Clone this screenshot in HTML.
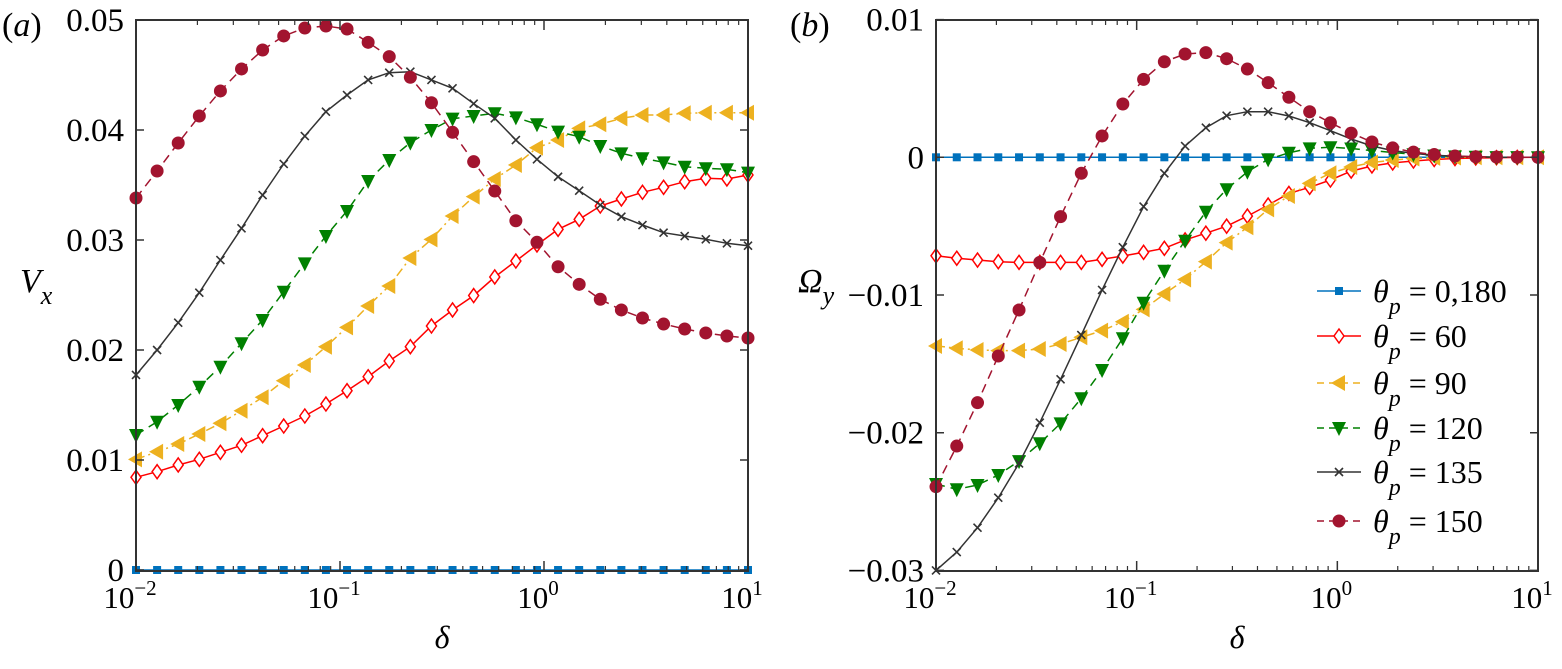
<!DOCTYPE html>
<html><head><meta charset="utf-8"><style>
html,body{margin:0;padding:0;background:#fff;}
svg, svg text{font-family:"Liberation Serif","DejaVu Serif",serif;}
</style></head><body>
<svg id="fig" width="1562" height="664" viewBox="0 0 1562 664" xmlns="http://www.w3.org/2000/svg" font-family="Liberation Serif, DejaVu Serif, serif"></svg>
<script>
const nPts = 30;
const seriesNames = ["0,180","60","90","120","135","150"];
const vxBlue = new Array(30).fill(0);
const vx60 = [.00843,.00894,.00955,.01006,.01070,.01134,.01221,.01309,.01400,.01509,.01630,.01757,.01900,.02030,.02218,.02364,.02495,.02664,.02809,.02955,.03097,.03188,.03309,.03373,.03434,.03479,.03530,.03561,.03555,.03591];
const vx90 = [.01006,.01075,.01145,.01236,.01334,.01448,.01570,.01721,.01864,.02030,.02206,.02400,.02582,.02836,.03006,.03218,.03394,.03555,.03682,.03839,.03909,.04015,.04052,.04106,.04136,.04136,.04152,.04157,.04157,.04157];
const vx120 = [.01227,.01348,.0150,.01666,.01848,.02061,.02273,.0253,.02788,.03036,.03264,.03536,.03727,.03885,.04,.04103,.04127,.04152,.04115,.04052,.03985,.03939,.03855,.03788,.03743,.03706,.03666,.03652,.03643,.03612];
const vx135 = [.01773,.02,.02248,.02521,.02818,.03106,.03409,.03691,.03945,.04166,.04318,.04455,.04521,.0453,.04455,.04379,.04239,.04106,.03909,.03734,.03575,.03448,.03318,.03212,.03136,.03066,.03036,.03006,.0297,.02948];
const vx150 = [.03382,.03627,.03882,.04127,.04355,.04555,.04727,.04855,.04927,.04945,.04918,.04797,.04667,.04479,.04248,.03979,.03712,.03445,.03175,.02979,.02757,.02597,.02461,.02364,.02291,.02236,.02191,.02155,.02127,.02109];
const omBlue = new Array(30).fill(0);
const om60 = [-.00715,-.00733,-.00746,-.00758,-.00763,-.00763,-.00763,-.00763,-.00741,-.00717,-.0069,-.00661,-.006,-.00551,-.005,-.00427,-.00347,-.00262,-.00218,-.00165,-.001,-.00063,-.00041,-.00027,-.00016,-.00009,-.00005,-.00003,-.00001,0];
const om90 = [-.0137,-.01387,-.01399,-.01404,-.01404,-.01392,-.01356,-.01307,-.01259,-.01194,-.01104,-.00993,-.00887,-.00758,-.0062,-.00508,-.00378,-.00281,-.00189,-.00116,-.0007,-.00038,-.0002,-.00009,-.00004,-.00001,0,0,0,0];
const om120 = [-.02373,-.02411,-.0238,-.02307,-.02206,-.02077,-.01932,-.0175,-.01545,-.01314,-.01056,-.00824,-.00606,-.00395,-.00232,-.00105,-.00015,.00033,.00065,.00073,.00064,.00049,.00035,.00022,.00013,.00007,.00004,.00001,.00001,0];
const om135 = [-.03,-.02867,-.0269,-.02472,-.02223,-.01927,-.01612,-.01291,-.00963,-.00653,-.00358,-.00116,.00082,.00215,.00302,.00331,.00331,.003,.00251,.00193,.00133,.00082,.00049,.00028,.00015,.00007,.00004,.00001,.00001,0];
const om150 = [-.02392,-.02097,-.01782,-.01443,-.01109,-.00763,-.00431,-.00116,.00155,.00387,.00566,.00694,.0075,.0076,.00716,.00641,.00542,.00436,.00331,.00251,.00176,.00111,.00068,.00038,.0002,.00009,.00004,.00002,.00001,0];
const vxTicks = [0,0.01,0.02,0.03,0.04,0.05];
const vxTickLabels = ["0","0.01","0.02","0.03","0.04","0.05"];
const omTicks = [-0.03,-0.02,-0.01,0,0.01];
const omTickLabels = ["\u22120.03","\u22120.02","\u22120.01","0","0.01"];
const xDecades = [-2,-1,0,1];

const NS="http://www.w3.org/2000/svg";
const svg=document.getElementById('fig');
const FF="Liberation Serif, DejaVu Serif, serif";
function mk(tag,attrs,parent){const e=document.createElementNS(NS,tag);for(const k in attrs)e.setAttribute(k,attrs[k]);if(tag==='text')e.setAttribute('font-family',FF);(parent||svg).appendChild(e);return e;}
const deltas=[];for(let i=0;i<nPts;i++)deltas.push(Math.pow(10,-2+3*i/(nPts-1)));

const styles=[
 {c:"#0072bd",dash:"",m:"square"},
 {c:"#ff0000",dash:"",m:"diamond"},
 {c:"#edb120",dash:"9,4,2,4",m:"tri-left"},
 {c:"#008000",dash:"9,6",m:"tri-down"},
 {c:"#333333",dash:"",m:"x"},
 {c:"#a2142f",dash:"9,6",m:"dot"}];

function marker(g,m,x,y,c){
 let e;
 if(m==="square") e=mk('rect',{x:x-4,y:y-4,width:8,height:8,fill:c},g);
 else if(m==="diamond") e=mk('path',{d:`M${x},${y-7}L${x+5},${y}L${x},${y+7}L${x-5},${y}Z`,fill:"#fff",stroke:c,"stroke-width":1.5},g);
 else if(m==="tri-left") e=mk('path',{d:`M${x-8},${y}L${x+6},${y-8}L${x+6},${y+8}Z`,fill:c},g);
 else if(m==="tri-down") e=mk('path',{d:`M${x-7},${y-6}L${x+7},${y-6}L${x},${y+8}Z`,fill:c},g);
 else if(m==="x") e=mk('path',{d:`M${x-4},${y-4}L${x+4},${y+4}M${x-4},${y+4}L${x+4},${y-4}`,stroke:c,"stroke-width":1.6},g);
 else e=mk('circle',{cx:x,cy:y,r:6.5,fill:c},g);
 
 
}

function panel(cfg){
 const g=mk('g',{},svg);
 
 
 const L=cfg.L,R=cfg.R,T=cfg.T,B=cfg.B;
 const xs=d=>L+(Math.log10(d)+2)/3*(R-L);
 const ys=v=>cfg.y0+(v-cfg.v0)*(cfg.y1-cfg.y0)/(cfg.v1-cfg.v0);
 cfg.series.forEach((arr,si)=>{
  const st=styles[si];
  const sg=mk('g',{},g);
  
  
  const pts=arr.map((v,i)=>xs(deltas[i]).toFixed(1)+","+ys(v).toFixed(1)).join(" ");
  const pl=mk('polyline',{points:pts,fill:"none",stroke:st.c,"stroke-width":1.5,"stroke-dasharray":st.dash},sg);
  
  
  arr.forEach((v,i)=>marker(sg,st.m,xs(deltas[i]),ys(v),st.c));
 });
 const fr=mk('rect',{x:L,y:T,width:R-L,height:B-T,fill:"none",stroke:"#333","stroke-width":2},g);
 
 
 cfg.ticks.forEach((v,i)=>{
  const y=ys(v);
  mk('path',{d:`M${L},${y}h8M${R},${y}h-8`,stroke:"#333","stroke-width":1.5},g);
  const t=mk('text',{x:L-12,y:y+11,"text-anchor":"end","font-size":33,fill:"#000"},g);
  t.textContent=cfg.labels[i];
  
  
 });
 xDecades.forEach(d=>{
  const x=L+(d+2)/3*(R-L);
  mk('path',{d:`M${x},${B}v-10M${x},${T}v10`,stroke:"#333","stroke-width":1.5},g);
  const t=mk('text',{x:x-6,y:B+37,"text-anchor":"middle","font-size":31,fill:"#000"},g);
  
  
  t.appendChild(document.createTextNode("10"));
  const s=mk('tspan',{dy:-13,"font-size":21},t);s.textContent=(d<0?"\u2212":"")+Math.abs(d);
  if(d<1)for(let k=2;k<10;k++){
   const xm=L+(d+2+Math.log10(k))/3*(R-L);
   mk('path',{d:`M${xm},${B}v-5M${xm},${T}v5`,stroke:"#333","stroke-width":1.2},g);
  }
 });
 const xl=mk('text',{x:(L+R)/2,y:648,"text-anchor":"middle","font-size":32,"font-style":"italic"},g);
 xl.textContent="\u03b4";
 
 
 return g;
}

panel({name:"panel-a-vx",L:136,R:748,T:20,B:571,v0:0,y0:570,v1:0.05,y1:20,ticks:vxTicks,labels:vxTickLabels,series:[vxBlue,vx60,vx90,vx120,vx135,vx150]});
panel({name:"panel-b-omega",L:936,R:1538,T:20,B:571,v0:0,y0:157.3,v1:-0.01,y1:295,ticks:omTicks,labels:omTickLabels,series:[omBlue,om60,om90,om120,om135,om150]});

function txt(x,y,html,name,size){const t=mk('text',{x:x,y:y,"font-size":size||34});t.innerHTML=html;return t;}
txt(2,36,'(<tspan font-style="italic">a</tspan>)','panel-a-label');
txt(790,36,'(<tspan font-style="italic">b</tspan>)','panel-b-label');
txt(20,292,'<tspan font-style="italic">V</tspan><tspan font-style="italic" font-size="26" dy="12">x</tspan>','y-axis-title-a');
txt(798,292,'<tspan font-style="italic">Ω</tspan><tspan font-style="italic" font-size="26" dy="12">y</tspan>','y-axis-title-b');

const legY=[291,336,383,428,472,521];
const lg=mk('g',{});


legY.forEach((y,i)=>{
 const st=styles[i];
 const eg=mk('g',{},lg);
 
 
 mk('line',{x1:1317,x2:1361,y1:y,y2:y,stroke:st.c,"stroke-width":1.5,"stroke-dasharray":st.dash?"7,5":""},eg);
 marker(eg,st.m,1339,y,st.c);
 const t=mk('text',{x:1373,y:y+11,"font-size":32},eg);
 t.innerHTML='<tspan font-style="italic">θ</tspan><tspan font-style="italic" font-size="24" dy="12">p</tspan><tspan dy="-12"> = '+seriesNames[i]+'</tspan>';
});
</script>
</body></html>
